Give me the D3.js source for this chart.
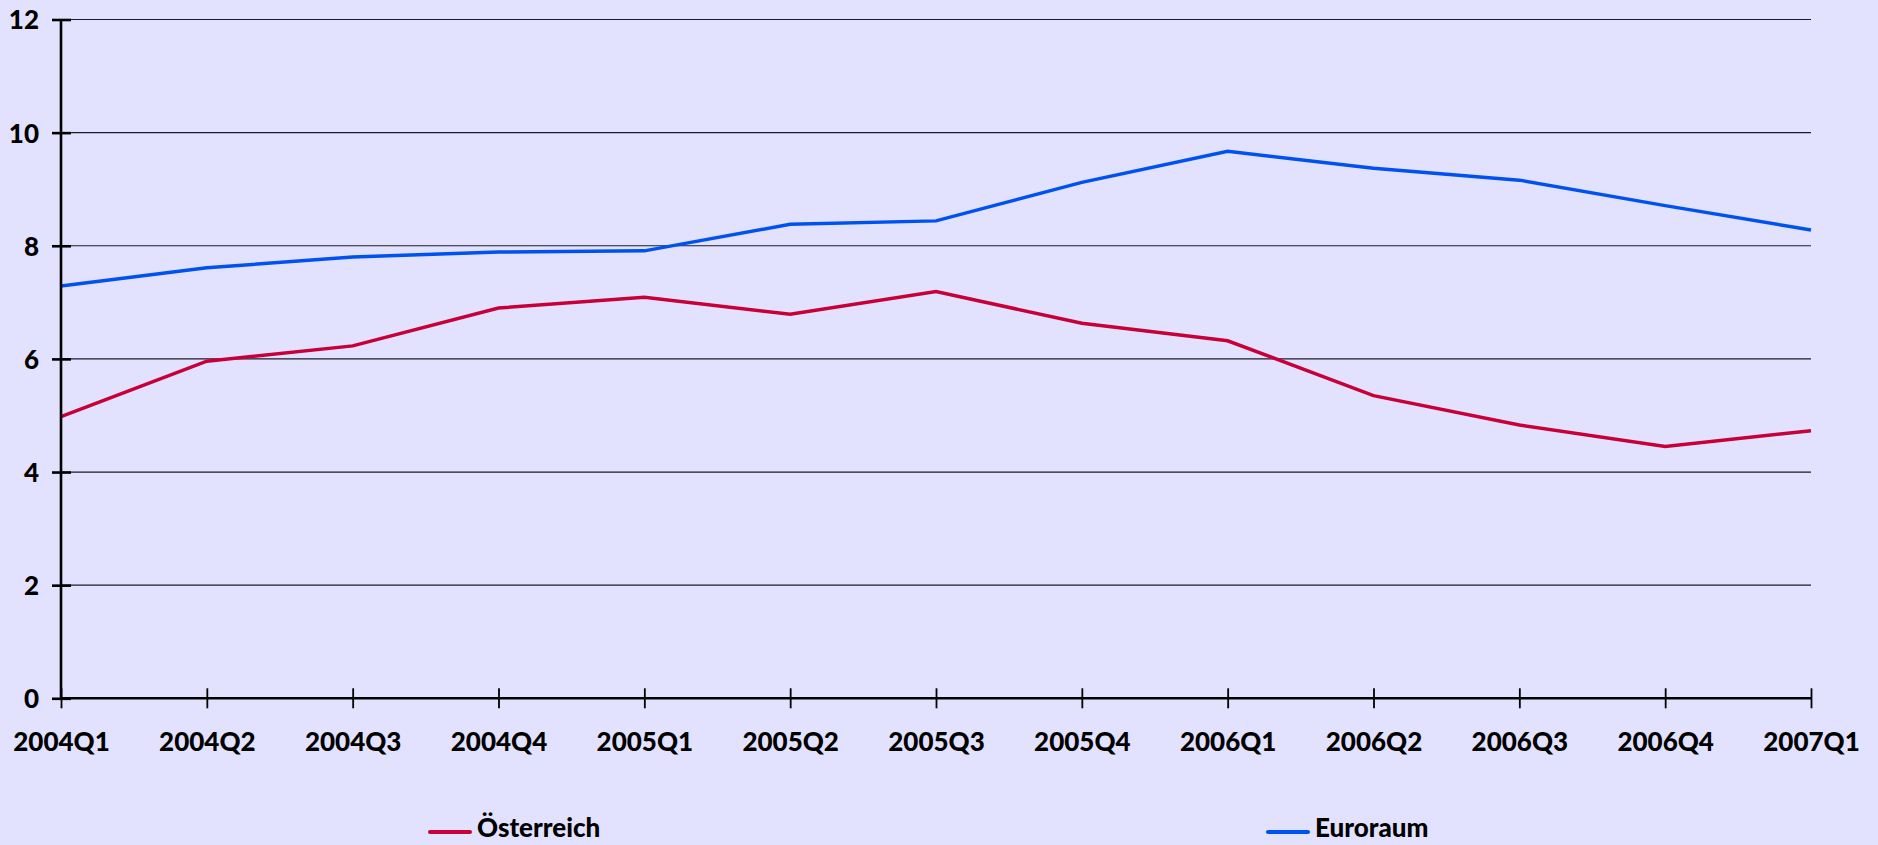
<!DOCTYPE html>
<html>
<head>
<meta charset="utf-8">
<script src="https://cdn.jsdelivr.net/npm/d3@7"></script>
<style>
  html, body { margin: 0; padding: 0; background: #e2e2ff; }
  svg { display: block; }
  text { font-family: Lato, "DejaVu Sans", sans-serif; font-weight: 900; fill: #000; }
</style>
</head>
<body>
<script>
const categories = ["2004Q1","2004Q2","2004Q3","2004Q4","2005Q1","2005Q2","2005Q3","2005Q4","2006Q1","2006Q2","2006Q3","2006Q4","2007Q1"];
const oesterreich = [4.98, 5.96, 6.23, 6.90, 7.09, 6.79, 7.19, 6.63, 6.32, 5.35, 4.83, 4.45, 4.73];
const euroraum   = [7.29, 7.61, 7.80, 7.89, 7.91, 8.38, 8.44, 9.12, 9.67, 9.37, 9.16, 8.71, 8.28];
const yTicks = [0, 2, 4, 6, 8, 10, 12];
const seriesNames = ["Österreich", "Euroraum"];

const W = 1878, H = 845;
const mLeft = 61, mRight = 1811, mTop = 19.5, mBottom = 698.3;
const colors = ["#c8003a", "#0052f0"];

const svg = d3.select("body").append("svg").attr("width", W).attr("height", H);
svg.append("rect").attr("width", W).attr("height", H).attr("fill", "#e2e2ff");

const x = d3.scalePoint().domain(categories).range([mLeft, mRight]);
const y = d3.scaleLinear().domain([0, 12]).range([mBottom, mTop]);

// gridlines
svg.append("g").selectAll("line").data(yTicks.filter(d => d > 0)).join("line")
  .attr("x1", mLeft).attr("x2", mRight)
  .attr("y1", d => y(d)).attr("y2", d => y(d))
  .attr("stroke", "#1a1a2a").attr("stroke-width", 1.2);

// series lines
const line = d3.line().x((d, i) => x(categories[i])).y(d => y(d));
[oesterreich, euroraum].forEach((s, k) => {
  svg.append("path").datum(s).attr("d", line)
    .attr("fill", "none").attr("stroke", colors[k]).attr("stroke-width", 3.5)
    .attr("stroke-linejoin", "miter");
});

// y axis
const yAxis = d3.axisLeft(y).tickValues(yTicks).tickSizeInner(0).tickSizeOuter(0).tickPadding(0);
const gy = svg.append("g").attr("transform", `translate(${mLeft},0)`).call(yAxis);
gy.select(".domain").remove();
gy.selectAll(".tick text").remove();
svg.append("line").attr("x1", mLeft).attr("x2", mLeft).attr("y1", mTop).attr("y2", mBottom)
  .attr("stroke", "#000").attr("stroke-width", 2.6);
gy.selectAll(".tick").append("line")
  .attr("x1", -9).attr("x2", 10).attr("y1", 0).attr("y2", 0)
  .attr("stroke", "#000").attr("stroke-width", 2.6);
gy.selectAll(".tick").append("text")
  .attr("x", -22).attr("dy", "0.36em").attr("text-anchor", "end")
  .style("font-size", "26px").text(d => d);

// x axis
const xAxis = d3.axisBottom(x).tickSizeInner(0).tickSizeOuter(0);
const gx = svg.append("g").attr("transform", `translate(0,${mBottom})`).call(xAxis);
gx.select(".domain").remove();
gx.selectAll(".tick text").remove();
svg.append("line").attr("x1", mLeft).attr("x2", mRight).attr("y1", mBottom).attr("y2", mBottom)
  .attr("stroke", "#000").attr("stroke-width", 2.4);
gx.selectAll(".tick").append("line")
  .attr("x1", 0).attr("x2", 0).attr("y1", -10).attr("y2", 10)
  .attr("stroke", "#000").attr("stroke-width", 1.8);
gx.selectAll(".tick").append("text")
  .attr("y", 52.5).attr("text-anchor", "middle")
  .style("font-size", "26px").text(d => d);

// legend
const legendX = [430, 1268];
seriesNames.forEach((n, k) => {
  const g = svg.append("g").attr("transform", `translate(${legendX[k]},832)`);
  g.append("line").attr("x1", 0).attr("x2", 40).attr("y1", 0).attr("y2", 0)
    .attr("stroke", colors[k]).attr("stroke-width", 4).attr("stroke-linecap", "round");
  g.append("text").attr("x", 47).attr("y", 5).style("font-size", "26px").text(n);
});
</script>
</body>
</html>
